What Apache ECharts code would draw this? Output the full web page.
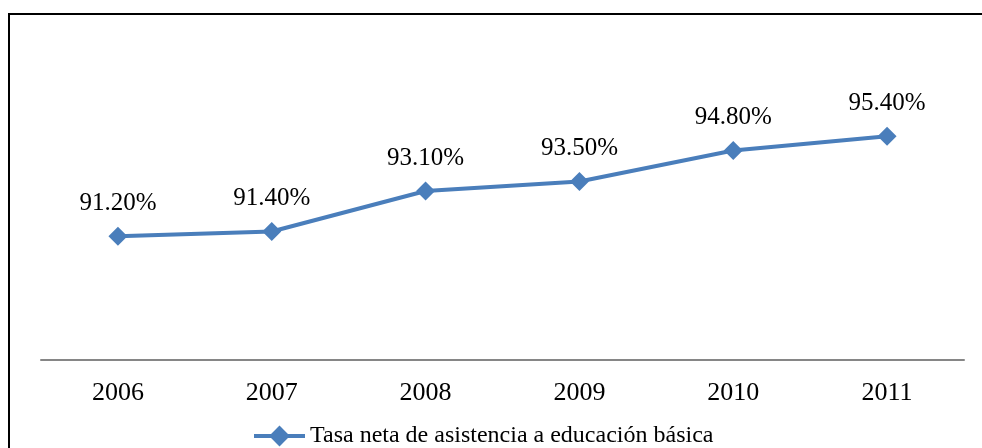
<!DOCTYPE html>
<html>
<head>
<meta charset="utf-8">
<script src="https://cdn.jsdelivr.net/npm/echarts@6/dist/echarts.min.js"></script>
<style>
  html, body { margin: 0; padding: 0; background: #fff; }
  #chart { width: 982px; height: 448px; }
</style>
</head>
<body>
<div id="chart"></div>
<script>
const years = ["2006", "2007", "2008", "2009", "2010", "2011"];
const tasaNeta = [91.2, 91.4, 93.1, 93.5, 94.8, 95.4];
const seriesName = "Tasa neta de asistencia a educación básica";

const font = "'Liberation Serif', 'Times New Roman', serif";
const blue = "#4a7ebb";

const chart = echarts.init(document.getElementById("chart"));
chart.setOption({
  backgroundColor: "#fff",
  animation: false,
  graphic: [
    {
      type: "rect",
      shape: { x: 9, y: 14, width: 1000, height: 500 },
      style: { fill: "none", stroke: "#000", lineWidth: 2 },
      silent: true,
    },
  ],
  grid: { left: 41, right: 18, top: 122, bottom: 88 },
  legend: {
    data: [seriesName],
    left: 247,
    top: 419,
    itemWidth: 51,
    itemHeight: 26,
    itemGap: 5,
    lineStyle: { width: 4 },
    textStyle: { fontFamily: font, fontSize: 24, color: "#000" },
  },
  xAxis: {
    type: "category",
    data: years,
    boundaryGap: true,
    axisLine: { lineStyle: { color: "#868686", width: 2 } },
    axisTick: { show: false },
    axisLabel: { fontFamily: font, fontSize: 26, color: "#000", margin: 20 },
  },
  yAxis: {
    type: "value",
    min: 86,
    max: 96,
    show: false,
    splitLine: { show: false },
  },
  series: [
    {
      name: seriesName,
      type: "line",
      data: tasaNeta,
      symbol: "diamond",
      symbolSize: 19,
      itemStyle: { color: blue },
      lineStyle: { color: blue, width: 4 },
      label: {
        show: true,
        position: "top",
        distance: 11,
        fontFamily: font,
        fontSize: 25,
        color: "#000",
        formatter: (p) => p.value.toFixed(2) + "%",
      },
    },
  ],
});
</script>
</body>
</html>
